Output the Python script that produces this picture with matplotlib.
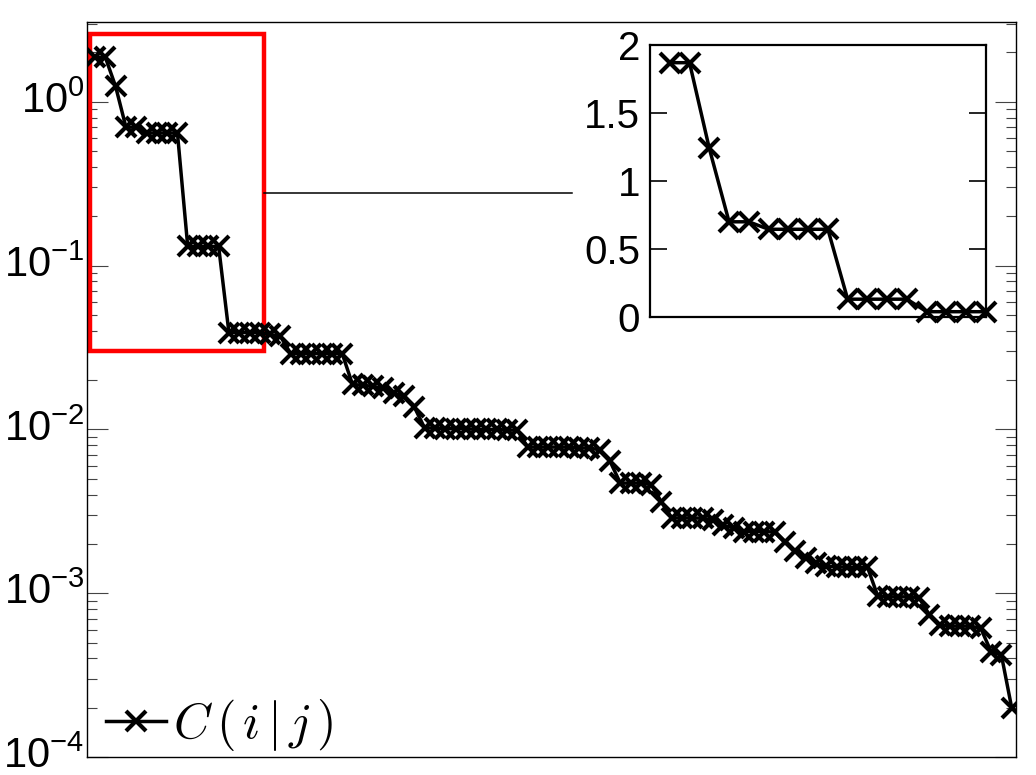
import matplotlib
matplotlib.use('Agg')
import numpy as np
import matplotlib.pyplot as plt
from matplotlib.font_manager import FontProperties
from matplotlib.patches import Rectangle
from matplotlib.ticker import LogLocator, NullFormatter

# C(i|j) values sorted in decreasing order
c_vals = [1.87, 1.87, 1.24, 0.70, 0.70,
          0.645, 0.645, 0.645, 0.645,
          0.131, 0.131, 0.131, 0.131,
          0.039, 0.039, 0.039, 0.039, 0.038, 0.037,
          0.029, 0.029, 0.029, 0.029, 0.029, 0.029,
          0.0188, 0.0186, 0.0183, 0.0178, 0.0166, 0.0160, 0.0137,
          0.0102, 0.0102, 0.0101, 0.0101, 0.0101, 0.0100, 0.0100, 0.0100, 0.0099, 0.0099,
          0.0078, 0.0078, 0.0078, 0.0078, 0.0078, 0.0077, 0.0077,
          0.0075, 0.0064,
          0.0047, 0.0047, 0.0047, 0.0046,
          0.0036,
          0.00288, 0.00288, 0.00288, 0.00287,
          0.0028, 0.0026,
          0.0025, 0.00238, 0.00238, 0.00238, 0.00236,
          0.00204, 0.0018, 0.00164, 0.00152,
          0.00146, 0.00145, 0.00144, 0.00144, 0.00144,
          0.00096, 0.00095, 0.00095, 0.00095, 0.00094,
          0.00074,
          0.00064, 0.00063, 0.00063, 0.00063, 0.00061,
          0.00044, 0.00042, 0.00020]
idx = np.arange(1, len(c_vals) + 1)

n_zoom = 17                       # points shown in the inset
inset_ticks = [0, 0.5, 1, 1.5, 2]
inset_labels = ['0', '0.5', '1', '1.5', '2']

plt.rcParams['font.family'] = ['Liberation Sans', 'DejaVu Sans']
plt.rcParams['mathtext.fontset'] = 'custom'
plt.rcParams['mathtext.rm'] = 'Liberation Sans'
plt.rcParams['mathtext.it'] = 'Liberation Sans:italic'

W, H = 1036, 775
fig = plt.figure(figsize=(W / 100, H / 100), dpi=100)

# main axes (pixel box 87..1016 x 22..757)
ax = fig.add_axes([87 / W, 1 - 757 / H, 929 / W, 735 / H])
line_kw = dict(color='k', lw=2.5, marker='x', markersize=14.5, markeredgewidth=3.0)
ax.plot(idx, c_vals, label=r'$C\,(\,i\,|\,j\,)$', zorder=3, **line_kw)
ax.set_yscale('log')
ax.set_ylim(1e-4, 3.07)
ax.set_xlim(0.22, 90.42)
ax.set_xticks([])
ax.yaxis.set_major_locator(LogLocator(base=10, numticks=10))
ax.yaxis.set_minor_locator(LogLocator(base=10, subs=np.arange(2, 10), numticks=100))
ax.yaxis.set_minor_formatter(NullFormatter())
ax.tick_params(axis='y', which='major', direction='in', left=True, right=True,
               length=15, width=0.8, color='#444444', labelsize=30, pad=2)
ax.tick_params(axis='y', which='minor', direction='in', left=True, right=True,
               length=7.5, width=0.8, color='#444444')
plt.setp(ax.get_yticklabels(), va='center')
for s in ax.spines.values():
    s.set_linewidth(1.0)

# red box marking the zoomed region, and the connector to the inset
ax.add_patch(Rectangle((0.5, 0.03), 16.9, 2.57, fill=False, edgecolor='red', lw=3.2, zorder=2))
ax.plot([17.4, 47.3], [0.278, 0.278], color='k', lw=1.1, zorder=2)

leg_font = FontProperties(family='DejaVu Serif', size=36, math_fontfamily='cm')
ax.legend(loc='lower left', bbox_to_anchor=(0.02, 0.005), frameon=False, prop=leg_font,
          handlelength=1.2, handletextpad=0.15, borderpad=0, borderaxespad=0, numpoints=1)

# inset with linear scale
ax_in = fig.add_axes([650 / W, 1 - 317 / H, 336 / W, 272 / H])
ax_in.plot(idx[:n_zoom], c_vals[:n_zoom], zorder=3, clip_on=False, **line_kw)
ax_in.set_xlim(0, n_zoom)
ax_in.set_ylim(0, 2)
ax_in.set_xticks([])
ax_in.set_yticks(inset_ticks)
ax_in.set_yticklabels(inset_labels)
ax_in.tick_params(axis='y', direction='in', left=True, right=True, length=12,
                  width=1.2, labelsize=29, pad=7)
for s in ax_in.spines.values():
    s.set_linewidth(1.6)

fig.savefig('out.png', dpi=100)
